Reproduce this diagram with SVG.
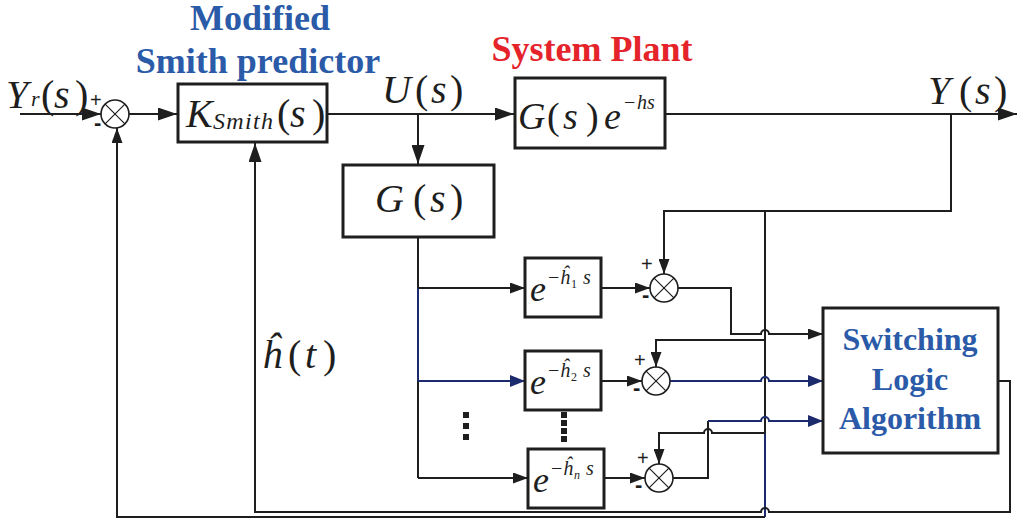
<svg xmlns="http://www.w3.org/2000/svg" width="1017" height="519" viewBox="0 0 1017 519">
<defs>
<style>
.ln{fill:none;stroke:#1e1e1e;stroke-width:2}
.lnN{fill:none;stroke:#1c2b6e;stroke-width:2}
.box{fill:#fff;stroke:#1e1e1e;stroke-width:3}
.sum circle{fill:#fff;stroke:#1e1e1e;stroke-width:1.6}
.sum path{fill:none;stroke:#1e1e1e;stroke-width:1.2}
.m{font-family:"Liberation Serif",serif;font-style:italic;fill:#1e1e1e}
.p{font-style:normal}
.ttl{font-family:"Liberation Serif",serif;font-weight:bold;text-anchor:middle}
.blue{fill:#2b5ba8}
.red{fill:#e4232b}
.sg{font-family:"Liberation Sans",sans-serif;fill:#1e1e1e}
.dot{fill:#1e1e1e}
</style>
<marker id="aL" markerUnits="userSpaceOnUse" viewBox="0 0 19 13" refX="19" refY="6.5" markerWidth="19" markerHeight="13" orient="auto"><path d="M0,0 L19,6.5 L0,13 z" fill="#1e1e1e"/></marker>
<marker id="aS" markerUnits="userSpaceOnUse" viewBox="0 0 15 11" refX="15" refY="5.5" markerWidth="15" markerHeight="11" orient="auto"><path d="M0,0 L15,5.5 L0,11 z" fill="#1e1e1e"/></marker>
<marker id="aN" markerUnits="userSpaceOnUse" viewBox="0 0 15 12" refX="15" refY="6" markerWidth="15" markerHeight="12" orient="auto"><path d="M0,0 L15,6 L0,12 z" fill="#1c2b6e"/></marker>
</defs>

<g id="titles">
<text class="ttl blue" x="260" y="30" font-size="36">Modified</text>
<text class="ttl blue" x="258" y="73" font-size="36">Smith predictor</text>
<text class="ttl red" x="592" y="61" font-size="36">System Plant</text>
</g>

<g id="connectors">
<path class="ln" d="M20,114 H101" marker-end="url(#aL)"/>
<path class="ln" d="M129,114 H177" marker-end="url(#aL)"/>
<path class="ln" d="M327,114 H514" marker-end="url(#aL)"/>
<path class="ln" d="M418,114 V164" marker-end="url(#aL)"/>
<path class="ln" d="M665,114 H1017" marker-end="url(#aL)"/>
<path class="ln" d="M951,114 V211 H664 V274" marker-end="url(#aS)"/>
<path class="ln" d="M765,211 V433"/>
<path class="lnN" d="M765,433 V517"/>
<path class="ln" d="M765,517 H117 V128" marker-end="url(#aS)"/>
<path class="ln" d="M418,237 V288"/>
<path class="lnN" d="M418,288 V381"/>
<path class="ln" d="M418,381 V478"/>
<path class="ln" d="M418,288 H525" marker-end="url(#aS)"/>
<path class="lnN" d="M418,381 H525" marker-end="url(#aN)"/>
<path class="ln" d="M418,478 H528" marker-end="url(#aS)"/>
<path class="ln" d="M601,288 H650" marker-end="url(#aS)"/>
<path class="ln" d="M601,381 H642" marker-end="url(#aS)"/>
<path class="ln" d="M604,478 H645" marker-end="url(#aS)"/>
<path class="ln" d="M678,288 H731 V334 H761 A4,4 0 0 1 769,334 H823" marker-end="url(#aS)"/>
<path class="ln" d="M765,340 H656 V367" marker-end="url(#aS)"/>
<path class="lnN" d="M670,381 H761 A4,4 0 0 1 769,381 H823" marker-end="url(#aN)"/>
<path class="ln" d="M765,433 H712 A4,4 0 0 0 704,433 H659 V464" marker-end="url(#aS)"/>
<path class="ln" d="M673,478 H708 V421"/>
<path class="lnN" d="M708,421 H761 A4,4 0 0 1 769,421 H823" marker-end="url(#aN)"/>
<path class="ln" d="M998,381 H1010 V512 H769 A4,4 0 0 0 761,512 H255 V143" marker-end="url(#aL)"/>
</g>

<g id="labels">
<text class="m" y="108" font-size="40"><tspan x="6">Y</tspan><tspan x="31" y="106" font-size="22">r</tspan><tspan class="p" x="41" y="108">(</tspan><tspan x="54">s</tspan><tspan class="p" x="75">)</tspan></text>
<text class="m" y="103" font-size="40"><tspan x="382">U</tspan><tspan class="p" x="415">(</tspan><tspan x="431">s</tspan><tspan class="p" x="450">)</tspan></text>
<text class="m" y="104" font-size="40"><tspan x="928">Y</tspan><tspan class="p" x="959">(</tspan><tspan x="975">s</tspan><tspan class="p" x="994">)</tspan></text>
<text class="m" y="368" font-size="40"><tspan x="262">ĥ</tspan><tspan class="p" x="288">(</tspan><tspan x="305">t</tspan><tspan class="p" x="323">)</tspan></text>
<text class="sg" x="90" y="107" font-size="20">+</text>
<text class="sg" x="94" y="130" font-size="22" font-weight="bold">-</text>
<text class="sg" x="641" y="271" font-size="20">+</text>
<text class="sg" x="642" y="302" font-size="22" font-weight="bold">-</text>
<text class="sg" x="634" y="367" font-size="20">+</text>
<text class="sg" x="633" y="395" font-size="22" font-weight="bold">-</text>
<text class="sg" x="637" y="465" font-size="20">+</text>
<text class="sg" x="635" y="492" font-size="22" font-weight="bold">-</text>
</g>

<g id="sum0" class="sum"><circle cx="115" cy="114" r="14"/><path d="M105.1,104.1 L124.9,123.9 M124.9,104.1 L105.1,123.9"/></g>
<g id="sum1" class="sum"><circle cx="664" cy="288" r="14"/><path d="M654.1,278.1 L673.9,297.9 M673.9,278.1 L654.1,297.9"/></g>
<g id="sum2" class="sum"><circle cx="656" cy="381" r="14"/><path d="M646.1,371.1 L665.9,390.9 M665.9,371.1 L646.1,390.9"/></g>
<g id="sum3" class="sum"><circle cx="659" cy="478" r="14"/><path d="M649.1,468.1 L668.9,487.9 M668.9,468.1 L649.1,487.9"/></g>

<g id="ksmith">
<rect class="box" x="178" y="84" width="149" height="58"/>
<text class="m" y="127" font-size="40"><tspan x="186">K</tspan><tspan x="213" y="129" font-size="24" textLength="60" lengthAdjust="spacing">Smith</tspan><tspan class="p" x="277" y="127">(</tspan><tspan x="290">s</tspan><tspan class="p" x="312">)</tspan></text>
</g>

<g id="plant">
<rect class="box" x="515" y="78" width="150" height="70"/>
<text class="m" y="129" font-size="38"><tspan x="518">G</tspan><tspan class="p" x="547">(</tspan><tspan x="563">s</tspan><tspan class="p" x="586">)</tspan><tspan x="604">e</tspan><tspan class="p" x="624" y="109" font-size="20">−</tspan><tspan x="637" y="109" font-size="20">hs</tspan></text>
</g>

<g id="gs">
<rect class="box" x="343" y="165" width="151" height="72"/>
<text class="m" y="212" font-size="40"><tspan x="375">G</tspan><tspan class="p" x="413">(</tspan><tspan x="430">s</tspan><tspan class="p" x="450">)</tspan></text>
</g>

<g id="delay1">
<rect class="box" x="525" y="258" width="76" height="59"/>
<text class="m" x="530" y="301" font-size="36">e</text>
<text class="m" y="284" font-size="20"><tspan class="p" x="548">−</tspan><tspan x="560">ĥ</tspan><tspan class="p" x="571" y="288" font-size="12">1</tspan><tspan x="583" y="284">s</tspan></text>
</g>

<g id="delay2">
<rect class="box" x="525" y="351" width="76" height="59"/>
<text class="m" x="530" y="394" font-size="36">e</text>
<text class="m" y="377" font-size="20"><tspan class="p" x="548">−</tspan><tspan x="560">ĥ</tspan><tspan class="p" x="571" y="381" font-size="12">2</tspan><tspan x="583" y="377">s</tspan></text>
</g>

<g id="delayn">
<rect class="box" x="528" y="449" width="76" height="59"/>
<text class="m" x="533" y="492" font-size="36">e</text>
<text class="m" y="475" font-size="20"><tspan class="p" x="551">−</tspan><tspan x="563">ĥ</tspan><tspan x="574" y="479" font-size="12">n</tspan><tspan x="586" y="475">s</tspan></text>
</g>

<g id="dots">
<rect class="dot" x="463" y="412" width="6" height="6"/>
<rect class="dot" x="463" y="423" width="6" height="6"/>
<rect class="dot" x="463" y="434" width="6" height="6"/>
<rect class="dot" x="561" y="412" width="6" height="6"/>
<rect class="dot" x="561" y="420" width="6" height="6"/>
<rect class="dot" x="561" y="428" width="6" height="6"/>
<rect class="dot" x="561" y="436" width="6" height="6"/>
</g>

<g id="switching">
<rect class="box" x="823" y="308" width="175" height="145"/>
<text class="ttl blue" x="910" y="350" font-size="32">Switching</text>
<text class="ttl blue" x="910" y="390" font-size="32">Logic</text>
<text class="ttl blue" x="910" y="429" font-size="32">Algorithm</text>
</g>
</svg>
